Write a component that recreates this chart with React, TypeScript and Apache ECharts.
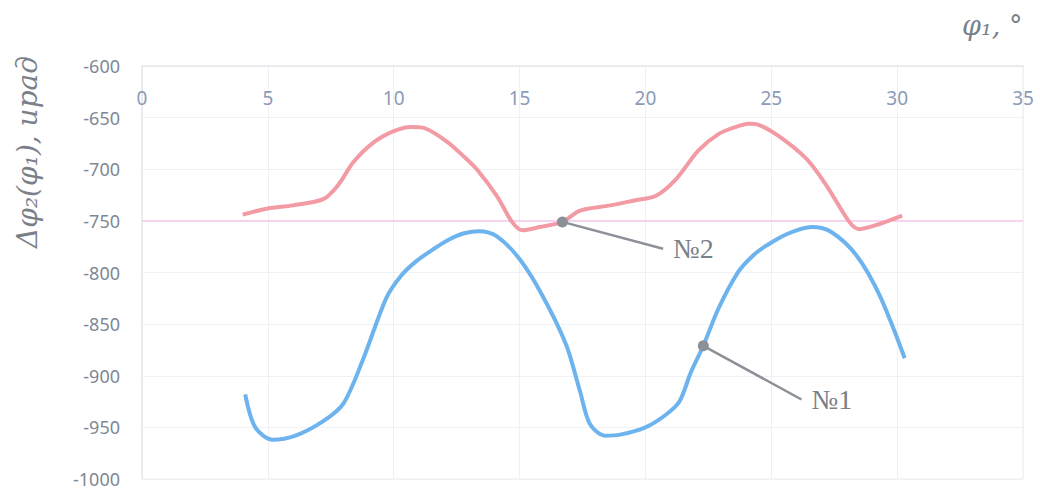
import React, { useEffect, useRef } from "react";
import * as echarts from "echarts";

// φ1, degrees -> Δφ2, µrad
const curve1: [number, number][] = [
  [4.1, -918], [4.5, -950], [5.2, -962], [6.1, -958], [7.2, -944], [8.0, -927],
  [8.8, -883], [9.7, -825], [10.3, -803], [10.9, -789], [11.6, -777], [12.2, -768],
  [12.8, -762], [13.4, -760], [14.1, -765], [15.0, -787], [15.9, -822], [16.85, -870],
  [17.4, -915], [17.8, -947], [18.4, -958], [19.0, -957], [20.0, -950], [20.8, -938],
  [21.35, -925], [21.8, -897], [22.3, -871], [22.9, -835], [23.7, -799], [24.3, -783],
  [24.8, -774], [25.6, -763], [26.6, -756], [27.4, -761], [28.4, -784], [29.3, -822],
  [30.3, -883],
];

const curve2: [number, number][] = [
  [4.0, -744], [5.0, -738], [6.0, -735], [7.2, -729], [7.8, -715], [8.4, -693],
  [9.2, -674], [10.0, -663], [10.7, -659], [11.2, -660], [12.1, -673], [12.8, -688],
  [13.3, -700], [14.1, -726], [14.7, -751], [15.1, -759], [15.8, -756], [16.7, -751],
  [17.4, -740], [18.6, -735], [19.6, -730], [20.4, -726], [21.2, -710], [22.1, -682],
  [22.9, -666], [23.6, -659], [24.1, -656], [24.5, -657], [25.3, -668], [26.4, -690],
  [27.2, -716], [28.1, -751], [28.5, -758], [29.3, -753], [30.2, -745],
];

// callouts: point on a curve -> end of leader line, with its text
const callout1: [number, number][] = [[22.3, -871], [26.2, -923]];
const callout2: [number, number][] = [[16.7, -751], [20.7, -777]];
const calloutNames = ["№1", "№2"];

// horizontal level line across the whole x range
const referenceLine: [number, number][] = [[0, -750], [35, -750]];

const xTicks = { min: 0, max: 35, interval: 5 };
const yTicks = { min: -1000, max: -600, interval: 50 };

function leader(points: [number, number][], name: string) {
  return {
    type: "line",
    data: [
      { value: points[0], symbol: "circle", symbolSize: 11 },
      { value: points[1], symbol: "none" },
    ],
    showSymbol: true,
    itemStyle: { color: "#8c9098" },
    lineStyle: { color: "#8c9098", width: 2.5 },
    endLabel: {
      show: true,
      formatter: name,
      distance: 10,
      fontFamily: "Liberation Serif, DejaVu Serif, serif",
      fontSize: 28,
      color: "#7a7f88",
    },
    z: 5,
  };
}

export default function App() {
  const ref = useRef<HTMLDivElement>(null);

  useEffect(() => {
    if (!ref.current) return;
    const chart = echarts.init(ref.current, undefined, { renderer: "svg" });
    chart.setOption({
      animation: false,
      backgroundColor: "#ffffff",
      grid: { left: 142, right: 17, top: 66, bottom: 12, containLabel: false, show: true, borderColor: "#eceef2", borderWidth: 1 },
      xAxis: {
        type: "value",
        position: "top",
        ...xTicks,
        axisLine: { show: true, lineStyle: { color: "#e6e8ec", width: 1.5 } },
        axisTick: { show: false },
        axisLabel: {
          inside: true,
          margin: 22,
          fontFamily: "Noto Sans, sans-serif",
          fontSize: 19,
          color: "#8b9bb8",
        },
        splitLine: { show: true, lineStyle: { color: "#eef0f4", width: 1 } },
      },
      yAxis: {
        type: "value",
        ...yTicks,
        axisLine: { show: true, lineStyle: { color: "#e6e8ec", width: 1.5 } },
        axisTick: { show: false },
        axisLabel: {
          margin: 22,
          fontFamily: "Noto Sans, sans-serif",
          fontSize: 18,
          color: "#7d8896",
          formatter: (v: number) => String(v),
        },
        splitLine: { show: true, lineStyle: { color: "#f0f1f5", width: 1 } },
      },
      graphic: [
        {
          type: "text",
          left: 13,
          top: 56,
          rotation: Math.PI / 2,
          style: {
            text: "Δφ₂(φ₁), ирад",
            fontFamily: "DejaVu Serif, serif",
            fontStyle: "italic",
            fontSize: 28,
            fill: "#7a8089",
          },
        },
        {
          type: "text",
          left: 962,
          top: 12,
          style: {
            text: "φ₁, °",
            fontFamily: "DejaVu Serif, serif",
            fontStyle: "italic",
            fontSize: 27,
            fill: "#7a8089",
          },
        },
      ],
      series: [
        {
          type: "line",
          data: referenceLine,
          showSymbol: false,
          silent: true,
          lineStyle: { color: "#f6b2e2", width: 1 },
          z: 1,
        },
        {
          name: "№2",
          type: "line",
          data: curve2,
          showSymbol: false,
          smooth: 0.3,
          lineStyle: { color: "#f39ba5", width: 4 },
          z: 3,
        },
        {
          name: "№1",
          type: "line",
          data: curve1,
          showSymbol: false,
          smooth: 0.3,
          lineStyle: { color: "#6db3ee", width: 4 },
          z: 3,
        },
        leader(callout2, calloutNames[1]),
        leader(callout1, calloutNames[0]),
      ],
    });
    return () => chart.dispose();
  }, []);

  return (
    <div
      ref={ref}
      style={{ position: "fixed", left: 0, top: 0, width: 1040, height: 491 }}
    />
  );
}
